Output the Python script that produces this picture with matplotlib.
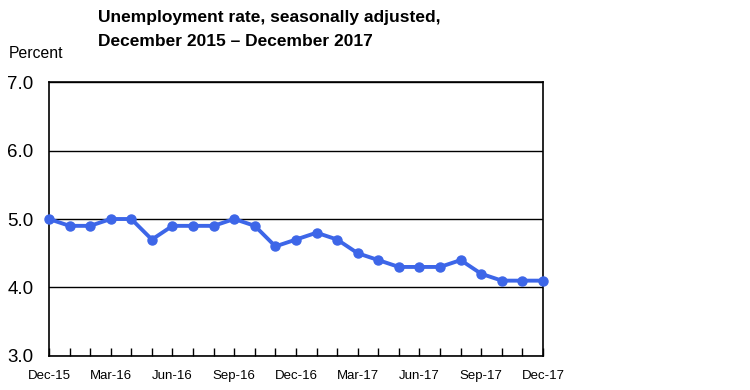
import matplotlib
matplotlib.use("Agg")
import matplotlib.pyplot as plt

# monthly unemployment rate, Dec 2015 - Dec 2017
months = ["Dec-15", "Jan-16", "Feb-16", "Mar-16", "Apr-16", "May-16", "Jun-16",
          "Jul-16", "Aug-16", "Sep-16", "Oct-16", "Nov-16", "Dec-16", "Jan-17",
          "Feb-17", "Mar-17", "Apr-17", "May-17", "Jun-17", "Jul-17", "Aug-17",
          "Sep-17", "Oct-17", "Nov-17", "Dec-17"]
rate = [5.0, 4.9, 4.9, 5.0, 5.0, 4.7, 4.9, 4.9, 4.9, 5.0, 4.9, 4.6, 4.7,
        4.8, 4.7, 4.5, 4.4, 4.3, 4.3, 4.3, 4.4, 4.2, 4.1, 4.1, 4.1]
y_ticks = [3.0, 4.0, 5.0, 6.0, 7.0]

plt.rcParams['font.family'] = ['Liberation Sans', 'DejaVu Sans']

fig = plt.figure(figsize=(7.5, 3.9), dpi=100)
ax = fig.add_axes([0.0653, 0.0872, 0.6587, 0.7025])

x = list(range(len(months)))
ax.plot(x, rate, color="#3d66e8", linewidth=2.8, marker="o", markersize=6.5,
        zorder=3, clip_on=False)

ax.set_xlim(0, len(months) - 1)
ax.set_ylim(3.0, 7.0)
ax.set_yticks(y_ticks)
ax.set_yticklabels([f"{v:.1f}" for v in y_ticks], fontsize=13.5)
ax.yaxis.grid(True, color="black", linewidth=1)
ax.set_axisbelow(True)

ax.set_xticks(x)
ax.set_xticklabels([m if i % 3 == 0 else "" for i, m in enumerate(months)], fontsize=9.5)
ax.tick_params(axis="x", direction="in", length=6, width=1, pad=10)
ax.tick_params(axis="y", length=0, pad=11)

for s in ax.spines.values():
    s.set_linewidth(1.2)

fig.text(0.131, 0.955, "Unemployment rate, seasonally adjusted,", fontsize=12.5,
         fontweight="bold", va="center")
fig.text(0.131, 0.893, "December 2015 \u2013 December 2017", fontsize=12.5,
         fontweight="bold", va="center")
fig.text(0.011, 0.862, "Percent", fontsize=11.3, va="center")

fig.savefig("out.png", dpi=100)
